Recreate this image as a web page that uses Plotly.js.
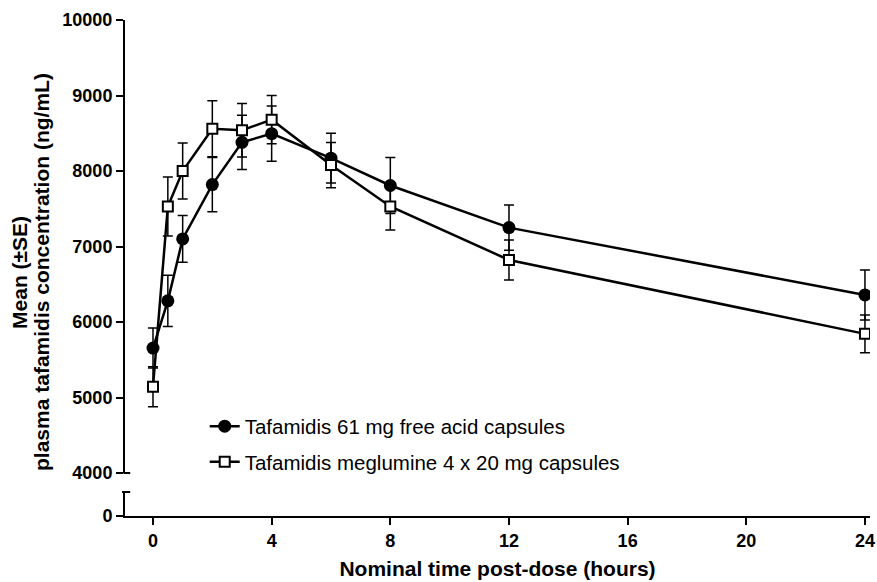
<!DOCTYPE html>
<html>
<head>
<meta charset="utf-8">
<script src="https://cdn.plot.ly/plotly-3.0.1.min.js"></script>
<style>html,body{margin:0;padding:0;background:#fff}#chart{width:877px;height:582px}</style>
</head>
<body>
<div id="chart"></div>
<script>
// Nominal time post-dose (hours)
const times = [0, 0.5, 1, 2, 3, 4, 6, 8, 12, 24];
// Tafamidis 61 mg free acid capsules
const freeAcidMean = [5655, 6280, 7100, 7820, 8380, 8495, 8170, 7808, 7250, 6358];
const freeAcidSE   = [265, 340, 310, 360, 360, 365, 330, 370, 300, 330];
// Tafamidis meglumine 4 x 20 mg capsules
const meglumineMean = [5143, 7530, 8000, 8560, 8540, 8680, 8078, 7530, 6822, 5843];
const meglumineSE   = [265, 390, 370, 370, 355, 320, 300, 310, 265, 250];
const xTicks = [0, 4, 8, 12, 16, 20, 24];
const seriesNames = ['Tafamidis 61 mg free acid capsules', 'Tafamidis meglumine 4 x 20 mg capsules'];

const FONT = 'Liberation Sans, Arial, sans-serif';
const err = arr => ({type: 'data', array: arr, visible: true, color: '#000', thickness: 1.5, width: 5});

const traces = [
  {
    x: times, y: freeAcidMean, name: seriesNames[0], xaxis: 'x', yaxis: 'y2',
    mode: 'lines+markers', legendgroup: 'a',
    line: {color: '#000', width: 2.5},
    marker: {symbol: 'circle', size: 13, color: '#000', line: {width: 0}},
    error_y: err(freeAcidSE)
  },
  {
    x: times, y: meglumineMean, name: seriesNames[1], xaxis: 'x', yaxis: 'y2',
    mode: 'lines+markers', legendgroup: 'b',
    line: {color: '#000', width: 2.5},
    marker: {symbol: 'square', size: 10, color: '#fff', line: {width: 2, color: '#000'}},
    error_y: err(meglumineSE)
  },
  // empty trace so that the lower (broken) y-axis subplot exists
  {x: [], y: [], xaxis: 'x', yaxis: 'y', mode: 'markers', showlegend: false, hoverinfo: 'skip'}
];

const axisCommon = {
  showline: true, linecolor: '#000', linewidth: 2,
  ticks: 'outside', ticklen: 7, tickwidth: 2, tickcolor: '#000',
  showgrid: false, zeroline: false,
  tickfont: {family: FONT, size: 18, color: '#000', weight: 'bold'}
};

const layout = {
  width: 877, height: 582,
  margin: {l: 125, r: 7, t: 20, b: 66},
  paper_bgcolor: '#fff', plot_bgcolor: '#fff',
  font: {family: FONT, color: '#000'},
  showlegend: true,
  legend: {
    x: 0.107, y: 0.221, xanchor: 'left', yanchor: 'top',
    font: {family: FONT, size: 20.5, color: '#000'},
    bgcolor: 'rgba(0,0,0,0)', traceorder: 'grouped', tracegroupgap: 6
  },
  xaxis: Object.assign({}, axisCommon, {
    anchor: 'y', range: [-0.944, 24.17], tickvals: xTicks, automargin: false,
    title: {text: 'Nominal time post-dose (hours)', font: {family: FONT, size: 21, color: '#000', weight: 'bold'}, standoff: 12}
  }),
  yaxis: Object.assign({}, axisCommon, {
    domain: [0, 0.0484], range: [0, 1], tickvals: [0], ticktext: ['0'], anchor: 'x', automargin: false
  }),
  yaxis2: Object.assign({}, axisCommon, {
    domain: [0.0867, 1], range: [4000, 10000], dtick: 1000, tick0: 4000, tickformat: 'd', anchor: 'x', automargin: false
  }),
  shapes: [
    {type: 'line', xref: 'paper', yref: 'y2 domain', x0: -0.002, x1: 0.007, y0: 0, y1: 0, line: {color: '#000', width: 2}},
    {type: 'line', xref: 'paper', yref: 'y domain', x0: -0.004, x1: 0.007, y0: 1, y1: 1, line: {color: '#000', width: 2}}
  ],
  annotations: [
    {xref: 'paper', yref: 'paper', x: -0.141, y: 0.492, xanchor: 'center', yanchor: 'middle', textangle: -90, showarrow: false,
     text: 'Mean (±SE)', font: {family: FONT, size: 21, color: '#000', weight: 'bold'}},
    {xref: 'paper', yref: 'paper', x: -0.1114, y: 0.492, xanchor: 'center', yanchor: 'middle', textangle: -90, showarrow: false,
     text: 'plasma tafamidis concentration (ng/mL)', font: {family: FONT, size: 21, color: '#000', weight: 'bold'}}
  ]
};

Plotly.newPlot('chart', traces, layout, {staticPlot: true, displayModeBar: false});
</script>
</body>
</html>
